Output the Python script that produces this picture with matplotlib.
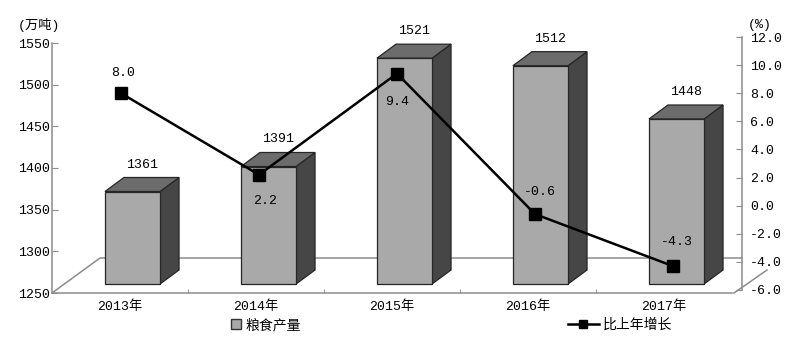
import matplotlib
matplotlib.use("Agg")
import matplotlib.pyplot as plt
from matplotlib.patches import Polygon, Patch
from matplotlib.lines import Line2D
from matplotlib.transforms import IdentityTransform
import numpy as np

plt.rcParams['font.family'] = ['Liberation Mono', 'Noto Sans CJK SC']
plt.rcParams['font.size'] = 9.5

# data
years = ['2013年', '2014年', '2015年', '2016年', '2017年']
output = [1361, 1391, 1521, 1512, 1448]      # 粮食产量 (万吨)
growth = [8.0, 2.2, 9.4, -0.6, -4.3]         # 比上年增长 (%)
left_ticks = [1250, 1300, 1350, 1400, 1450, 1500, 1550]
right_ticks = [-6, -4, -2, 0, 2, 4, 6, 8, 10, 12]

# label offsets for the growth values (px)
growth_off = [(2, 20), (6, -26), (0, -28), (5, 22), (4, 24)]

W, H = 800, 339
fig = plt.figure(figsize=(W / 100, H / 100), dpi=100)


def px(x, y, w, h):
    return [x / W, (H - y - h) / H, w / W, h / H]


GRAY = '#8c8c8c'
ax = fig.add_axes(px(52, 43, 680, 250))
ax2 = fig.add_axes(px(52, 37, 690, 253))

pos = np.arange(len(years)) + 0.5

# ---- bar axes (left) ----
ax.set_xlim(0, len(years))
ax.set_ylim(left_ticks[0], left_ticks[-1])
for s in ['top', 'right']:
    ax.spines[s].set_visible(False)
for s in ['left', 'bottom']:
    ax.spines[s].set_color(GRAY)
    ax.spines[s].set_linewidth(1.1)
ax.set_yticks(left_ticks)
ax.tick_params(axis='y', direction='in', length=4, color=GRAY, pad=1.5)
ax.set_xticks(pos)
ax.set_xticklabels(years)
ax.set_xticks(np.arange(1, len(years)), minor=True)
ax.tick_params(axis='x', which='major', length=0, pad=5)
ax.tick_params(axis='x', which='minor', direction='in', length=3, color=GRAY)
ax.set_facecolor('none')

# floor of the 3d box
ident = IdentityTransform()
fl = ax.transAxes.transform((0, 0))
fr = ax.transAxes.transform((1, 0))
back_y = fl[1] + 35
right_x = ax2.transAxes.transform((1, 0))[0]
for xs, ys in [([fl[0], fl[0] + 48, right_x], [fl[1], back_y, back_y]),
               ([fr[0] + 2, fr[0] + 35], [fr[1], fr[1] + 23])]:
    fig.add_artist(Line2D(xs, ys, color=GRAY, lw=1.1, transform=ident, zorder=0.5))

# 3d bars
bw = 0.405
shift = np.array([12.5, 9.0])
dx, dy = 19, 14
for x, v in zip(pos, output):
    x0, y0 = ax.transData.transform((x - bw / 2, left_ticks[0])) + shift
    x1, y1 = ax.transData.transform((x + bw / 2, v)) + shift
    side = [(x1, y0), (x1 + dx, y0 + dy), (x1 + dx, y1 + dy), (x1, y1)]
    top = [(x0, y1), (x1, y1), (x1 + dx, y1 + dy), (x0 + dx, y1 + dy)]
    front = [(x0, y0), (x1, y0), (x1, y1), (x0, y1)]
    for pts, c in [(side, '#464646'), (top, '#6c6c6c'), (front, '#a9a9a9')]:
        fig.add_artist(Polygon(pts, closed=True, facecolor=c, edgecolor='#262626',
                               lw=0.9, transform=ident, zorder=1))
    ax.annotate(str(v), (x, v), xytext=(22 * 0.72, 36 * 0.72),
                textcoords='offset points', ha='center', va='center')

# ---- line axes (right) ----
ax2.set_xlim(0, len(years))
ax2.set_ylim(right_ticks[0], right_ticks[-1])
ax2.set_facecolor('none')
for s in ['top', 'left', 'bottom']:
    ax2.spines[s].set_visible(False)
ax2.spines['right'].set_color(GRAY)
ax2.spines['right'].set_linewidth(1.1)
ax2.set_xticks([])
ax2.yaxis.tick_right()
ax2.set_yticks(right_ticks)
ax2.set_yticklabels([f'{t:.1f}' for t in right_ticks])
ax2.tick_params(axis='y', direction='in', length=4, color=GRAY, pad=6)
ax2.set_zorder(3)

ax2.plot(pos, growth, color='black', lw=1.8, marker='s', ms=8, zorder=5)
for x, g, (ox, oy) in zip(pos, growth, growth_off):
    ax2.annotate(f'{g:.1f}', (x, g), xytext=(ox * 0.72, oy * 0.72),
                 textcoords='offset points', ha='center', va='center')

# unit labels
fig.text(18 / W, (H - 25) / H, '(万吨)', ha='left', va='center')
fig.text(748 / W, (H - 25) / H, '(%)', ha='left', va='center')

# legends
cjk = {'family': 'Noto Sans CJK SC', 'size': 10}
fig.legend(handles=[Patch(facecolor='#a9a9a9', edgecolor='#333333')], labels=['粮食产量'],
           loc='center left', bbox_to_anchor=(231 / W, 14 / H), frameon=False,
           borderpad=0, borderaxespad=0, handlelength=0.7, handleheight=0.7,
           handletextpad=0.35, prop=cjk)
fig.legend(handles=[Line2D([], [], color='black', lw=1.8, marker='s', ms=5.5)],
           labels=['比上年增长'], loc='center left', bbox_to_anchor=(568 / W, 14 / H),
           frameon=False, borderpad=0, borderaxespad=0, handlelength=2.2,
           handletextpad=0.3, prop=cjk)

fig.savefig('out.png', dpi=100)
